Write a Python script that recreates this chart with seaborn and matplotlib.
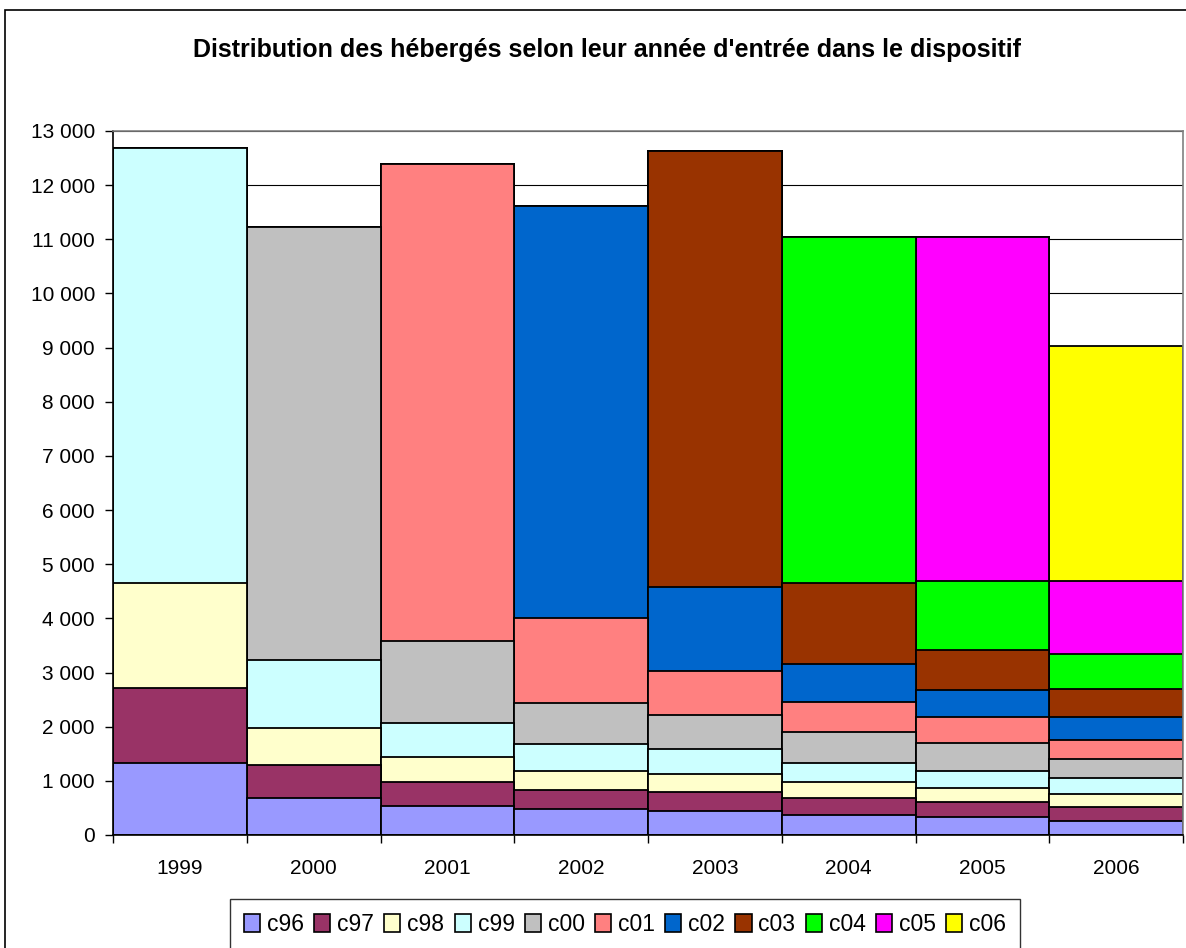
import matplotlib
matplotlib.use("Agg")
import matplotlib.pyplot as plt
import matplotlib.patches as mpatches
import numpy as np
import pandas as pd
import seaborn as sns

# ---- data ----
years = ["1999", "2000", "2001", "2002", "2003", "2004", "2005", "2006"]
cohorts = ["c96", "c97", "c98", "c99", "c00", "c01", "c02", "c03", "c04", "c05", "c06"]

c96 = [1334, 689, 541, 479, 443, 369, 332, 252]
c97 = [1372, 609, 436, 351, 344, 319, 277, 258]
c98 = [1949, 670, 461, 356, 332, 289, 264, 246]
c99 = [8026, 1267, 633, 498, 461, 356, 313, 289]
c00 = [0, 7988, 1519, 744, 633, 560, 504, 350]
c01 = [0, 0, 8803, 1586, 811, 565, 492, 357]
c02 = [0, 0, 0, 7604, 1555, 708, 492, 430]
c03 = [0, 0, 0, 0, 8059, 1493, 750, 516]
c04 = [0, 0, 0, 0, 0, 6387, 1260, 635]
c05 = [0, 0, 0, 0, 0, 0, 6362, 1357]
c06 = [0, 0, 0, 0, 0, 0, 0, 4338]

colors = ["#9999FF", "#993366", "#FFFFCC", "#CCFFFF", "#C0C0C0", "#FF8080",
          "#0066CC", "#993300", "#00FF00", "#FF00FF", "#FFFF00"]

series = [c96, c97, c98, c99, c00, c01, c02, c03, c04, c05, c06]
df = pd.DataFrame(dict(zip(cohorts, series)), index=years)
cum = df.cumsum(axis=1)

sns.set_style("white")
plt.rcParams["font.family"] = ["Liberation Sans", "DejaVu Sans"]
plt.rcParams["text.color"] = "black"
plt.rcParams["xtick.labelcolor"] = "black"
plt.rcParams["ytick.labelcolor"] = "black"

fig = plt.figure(figsize=(11.86, 9.48), dpi=100)
ax = fig.add_axes([0.0953, 0.1192, 0.9022, 0.7427])

# draw cumulative totals from top layer down so lower layers sit on top
for i in range(len(cohorts) - 1, -1, -1):
    layer = pd.DataFrame({"year": years, "total": cum[cohorts[i]].values})
    sns.barplot(data=layer, x="year", y="total", color=colors[i], width=1.0,
                edgecolor="black", linewidth=1.3, saturation=1, ax=ax, zorder=2)

ax.set_xlim(-0.5, len(years) - 0.5)
ax.set_ylim(0, 13000)
ax.set_yticks(np.arange(0, 13001, 1000))
ax.set_yticklabels([f"{v:,}".replace(",", " ") for v in range(0, 13001, 1000)])
ax.yaxis.grid(True, color="black", linewidth=0.8, zorder=0)
ax.set_axisbelow(True)
ax.set_xlabel("")
ax.set_ylabel("")

ax.set_xticks(np.arange(-0.5, len(years), 1.0), minor=True)
ax.tick_params(axis="x", which="major", length=0, pad=17, labelsize=15, labelcolor="black")
ax.tick_params(axis="x", which="minor", length=6, width=1, color="black", direction="out", bottom=True)
ax.tick_params(axis="y", length=6, width=1, color="black", direction="out", left=True, pad=7,
               labelsize=15, labelcolor="black")

for side in ["left", "bottom"]:
    ax.spines[side].set_color("black")
    ax.spines[side].set_linewidth(1.2)
for side in ["top", "right"]:
    ax.spines[side].set_color("#808080")
    ax.spines[side].set_linewidth(1.2)

fig.text(0.512, 0.947, "Distribution des hébergés selon leur année d'entrée dans le dispositif",
         ha="center", va="center", fontsize=18, fontweight="bold", color="black")

handles = [mpatches.Patch(facecolor=c, edgecolor="black", linewidth=1.2) for c in colors]
leg = fig.legend(handles, cohorts, loc="center", bbox_to_anchor=(0.527, 0.025), ncol=11,
                 fontsize=16.5, frameon=True, fancybox=False, handlelength=0.7, handleheight=0.8,
                 handletextpad=0.3, columnspacing=0.45, borderpad=0.6, labelcolor="black")
leg.get_frame().set_edgecolor("black")
leg.get_frame().set_linewidth(1.0)

# outer chart border
fig.patches.append(mpatches.Rectangle((0.004, -0.02), 1.2, 1.0094, transform=fig.transFigure,
                                      fill=False, edgecolor="black", linewidth=1.2))

fig.savefig("out.png", dpi=100)
